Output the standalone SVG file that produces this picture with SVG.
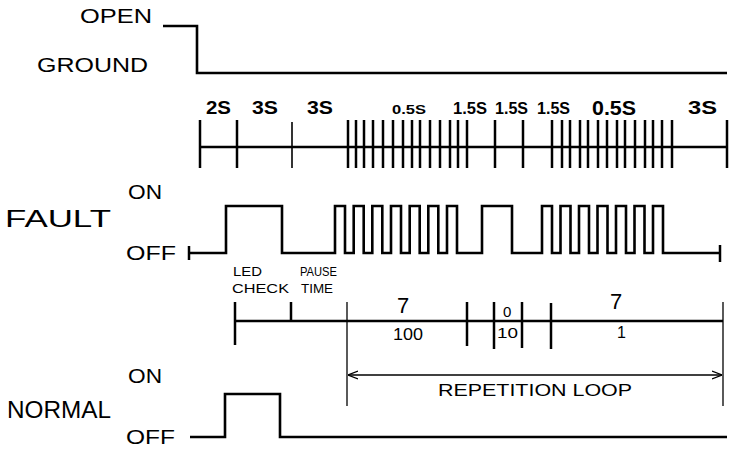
<svg xmlns="http://www.w3.org/2000/svg" width="736" height="454" viewBox="0 0 736 454">
<defs>
<style>
.t{font-family:"Liberation Sans",Arial,sans-serif;fill:#000}
.b{font-weight:bold}
.sig{fill:none;stroke:#000;stroke-width:2.6;stroke-linejoin:miter}
.tk{stroke:#000;stroke-width:2.5}
.thin{stroke:#000;stroke-width:1.3;fill:none}
</style>
<marker id="ah" viewBox="0 0 10 10" refX="10" refY="5" markerWidth="10" markerHeight="10" markerUnits="userSpaceOnUse" orient="auto-start-reverse">
<path d="M0,1 L10,5 L0,9" fill="none" stroke="#000" stroke-width="1.2"/>
</marker>
</defs>
<rect width="736" height="454" fill="#fff"/>

<g id="open-ground">
<text class="t" x="80" y="23" font-size="21" textLength="72" lengthAdjust="spacingAndGlyphs">OPEN</text>
<text class="t" x="37" y="72" font-size="21" textLength="111" lengthAdjust="spacingAndGlyphs">GROUND</text>
<path class="sig" d="M163,26 H197 V73 H727"/>
</g>

<g id="timeline">
<line class="tk" x1="200" y1="147" x2="727" y2="147" stroke-width="2"/>
<g class="tk">
<line x1="200" y1="120" x2="200" y2="168"/>
<line x1="237" y1="120" x2="237" y2="168"/>
<line x1="292" y1="122" x2="292" y2="168" stroke-width="1.6"/>
<line x1="348" y1="120" x2="348" y2="168"/>
<line x1="356" y1="120" x2="356" y2="168"/>
<line x1="364" y1="120" x2="364" y2="168"/>
<line x1="373" y1="120" x2="373" y2="168"/>
<line x1="383" y1="120" x2="383" y2="168"/>
<line x1="393" y1="120" x2="393" y2="168"/>
<line x1="403" y1="120" x2="403" y2="168"/>
<line x1="412" y1="120" x2="412" y2="168"/>
<line x1="420" y1="120" x2="420" y2="168"/>
<line x1="430" y1="120" x2="430" y2="168"/>
<line x1="440" y1="120" x2="440" y2="168"/>
<line x1="450" y1="120" x2="450" y2="168"/>
<line x1="458" y1="120" x2="458" y2="168"/>
<line x1="467" y1="120" x2="467" y2="168"/>
<line x1="495" y1="120" x2="495" y2="168"/>
<line x1="523" y1="120" x2="523" y2="168"/>
<line x1="552" y1="120" x2="552" y2="168"/>
<line x1="562" y1="120" x2="562" y2="168"/>
<line x1="570" y1="120" x2="570" y2="168"/>
<line x1="580" y1="120" x2="580" y2="168"/>
<line x1="588" y1="120" x2="588" y2="168"/>
<line x1="598" y1="120" x2="598" y2="168"/>
<line x1="607" y1="120" x2="607" y2="168"/>
<line x1="617" y1="120" x2="617" y2="168"/>
<line x1="625" y1="120" x2="625" y2="168"/>
<line x1="635" y1="120" x2="635" y2="168"/>
<line x1="645" y1="120" x2="645" y2="168"/>
<line x1="653" y1="120" x2="653" y2="168"/>
<line x1="662" y1="120" x2="662" y2="168"/>
<line x1="672" y1="120" x2="672" y2="168"/>
<line x1="727" y1="120" x2="727" y2="168"/>
</g>
<text class="t b" x="206" y="114" font-size="18" textLength="25" lengthAdjust="spacingAndGlyphs">2S</text>
<text class="t b" x="252" y="114" font-size="18" textLength="26" lengthAdjust="spacingAndGlyphs">3S</text>
<text class="t b" x="307" y="114" font-size="18" textLength="26" lengthAdjust="spacingAndGlyphs">3S</text>
<text class="t b" x="392" y="114" font-size="13" textLength="34" lengthAdjust="spacingAndGlyphs">0.5S</text>
<text class="t b" x="453" y="114" font-size="16" textLength="34" lengthAdjust="spacingAndGlyphs">1.5S</text>
<text class="t b" x="495" y="114" font-size="16" textLength="33" lengthAdjust="spacingAndGlyphs">1.5S</text>
<text class="t b" x="537" y="114" font-size="16" textLength="33" lengthAdjust="spacingAndGlyphs">1.5S</text>
<text class="t b" x="592" y="115" font-size="21" textLength="44" lengthAdjust="spacingAndGlyphs">0.5S</text>
<text class="t b" x="688" y="114" font-size="18" textLength="29" lengthAdjust="spacingAndGlyphs">3S</text>
</g>

<g id="fault">
<text class="t" x="128" y="199" font-size="21" textLength="34" lengthAdjust="spacingAndGlyphs">ON</text>
<text class="t" x="5" y="227" font-size="23" textLength="106" lengthAdjust="spacingAndGlyphs">FAULT</text>
<text class="t" x="126" y="260" font-size="21" textLength="50" lengthAdjust="spacingAndGlyphs">OFF</text>
<line class="tk" x1="189" y1="246" x2="189" y2="260"/>
<line class="tk" x1="720" y1="245" x2="720" y2="262" stroke-width="3"/>
<path class="sig" d="M189,253 H226 V206 H282 V253 H335
V206 H345 V253 H353.7 V206 H363.7 V253 H372.3 V206 H382.3 V253 H391 V206 H401 V253 H409.7 V206 H419.7 V253 H428.3 V206 H438.3 V253 H447 V206 H457 V253
H482 V206 H512 V253 H542
V206 H552 V253 H560.5 V206 H570.5 V253 H579 V206 H589 V253 H597.5 V206 H607.5 V253 H616 V206 H626 V253 H634.5 V206 H644.5 V253 H653 V206 H663 V253 H720"/>
<text class="t" x="233" y="276" font-size="13" textLength="29" lengthAdjust="spacingAndGlyphs">LED</text>
<text class="t" x="232" y="293" font-size="13" textLength="57" lengthAdjust="spacingAndGlyphs">CHECK</text>
<text class="t" x="300" y="276" font-size="13" textLength="37" lengthAdjust="spacingAndGlyphs">PAUSE</text>
<text class="t" x="301" y="293" font-size="13" textLength="32" lengthAdjust="spacingAndGlyphs">TIME</text>
</g>

<g id="segments">
<line class="tk" x1="235" y1="321" x2="723" y2="321"/>
<line class="tk" x1="235" y1="302" x2="235" y2="345" stroke-width="2"/>
<line class="tk" x1="291" y1="302" x2="291" y2="322" stroke-width="2"/>
<line class="tk" x1="467" y1="302" x2="467" y2="346"/>
<line class="tk" x1="494" y1="302" x2="494" y2="349" stroke-width="2"/>
<line class="tk" x1="522" y1="302" x2="522" y2="348" stroke-width="2"/>
<line class="tk" x1="551" y1="303" x2="551" y2="349" stroke-width="2"/>
<text class="t" x="397" y="313" font-size="22">7</text>
<text class="t" x="393" y="340" font-size="16" textLength="30" lengthAdjust="spacingAndGlyphs">100</text>
<text class="t" x="503" y="317" font-size="15">0</text>
<text class="t" x="497" y="338" font-size="15" textLength="21" lengthAdjust="spacingAndGlyphs">10</text>
<text class="t" x="610" y="309" font-size="22">7</text>
<text class="t" x="617" y="338" font-size="16">1</text>
</g>

<g id="repetition-loop">
<line class="thin" x1="347" y1="302" x2="347" y2="406" stroke-width="1.5"/>
<line class="thin" x1="723" y1="302" x2="723" y2="406" stroke-width="1.5"/>
<line class="thin" x1="348" y1="375" x2="722" y2="375" marker-start="url(#ah)" marker-end="url(#ah)"/>
<text class="t" x="438" y="396" font-size="16" textLength="194" lengthAdjust="spacingAndGlyphs">REPETITION LOOP</text>
</g>

<g id="normal">
<text class="t" x="128" y="383" font-size="21" textLength="34" lengthAdjust="spacingAndGlyphs">ON</text>
<text class="t" x="7" y="418" font-size="23" textLength="104" lengthAdjust="spacingAndGlyphs">NORMAL</text>
<text class="t" x="126" y="444" font-size="21" textLength="49" lengthAdjust="spacingAndGlyphs">OFF</text>
<path class="sig" d="M190,437 H225 V394 H280 V437 H727"/>
</g>
</svg>
